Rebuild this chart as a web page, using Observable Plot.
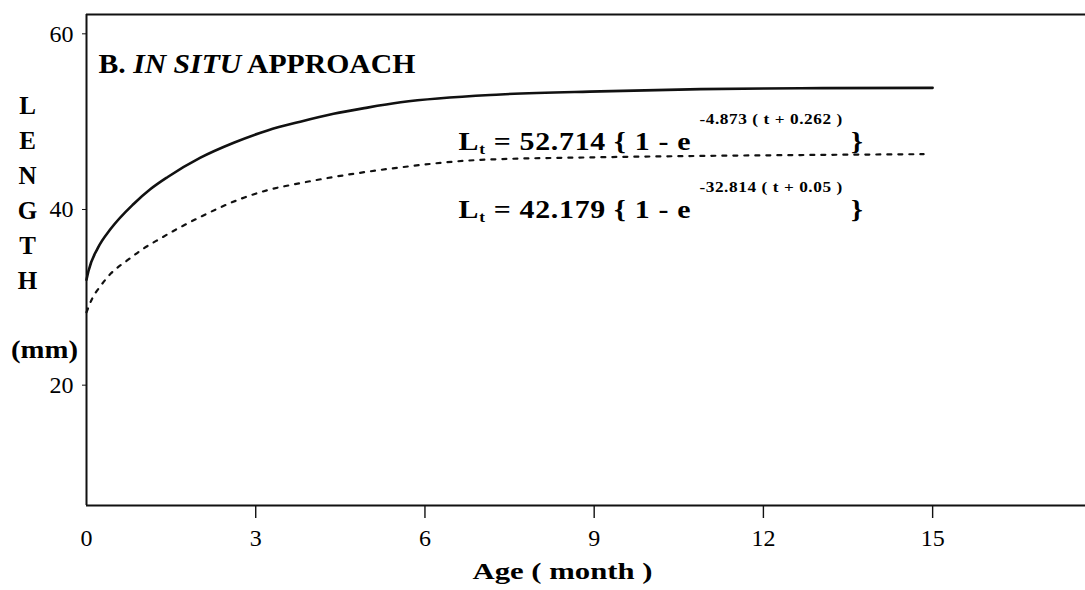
<!DOCTYPE html>
<html><head><meta charset="utf-8">
<script src="https://cdn.jsdelivr.net/npm/d3@7"></script>
<script src="https://cdn.jsdelivr.net/npm/@observablehq/plot@0.6"></script>
<style>
html,body{margin:0;padding:0;background:#fff;}
#chart svg{display:block;}
</style></head><body><div id="chart"></div>
<script>
// ---- data ----
const solidAge = [0, 0.035, 0.2, 0.43, 0.83, 1.13, 1.44, 2.02, 2.61, 3.21, 3.79, 4.38, 4.98, 5.57, 7.34, 9.11, 10.89, 12.66, 15];
const solidLength = [32.0, 33.0, 35.6, 37.8, 40.6, 42.3, 43.7, 45.9, 47.6, 49.0, 50.0, 50.9, 51.6, 52.2, 53.1, 53.45, 53.7, 53.8, 53.85];
const dottedAge = [0, 0.1, 0.25, 0.43, 0.72, 1.01, 1.31, 1.61, 1.97, 2.73, 3.21, 3.79, 4.38, 4.98, 5.57, 6.99, 9.11, 10.89, 12.66, 14.84];
const dottedLength = [28.3, 29.85, 31.3, 32.7, 34.2, 35.55, 36.7, 37.8, 39.0, 41.2, 42.2, 43.0, 43.7, 44.3, 44.8, 45.65, 45.95, 46.1, 46.2, 46.3];
const xTicks = [0, 3, 6, 9, 12, 15];
const yTicks = [20, 40, 60];
const eqLinf = ["52.714", "42.179"];
const eqK = ["-4.873", "-32.814"];
const eqT0 = ["0.262", "0.05"];
const titleParts = ["B. ", "IN SITU", " APPROACH"];
const yLabelLetters = ["L", "E", "N", "G", "T", "H"];
const yUnit = "(mm)";
const xLabel = "Age ( month )";

const xDomain = [0, 17.71];
const yDomain = [6.3, 62.2];

const solid = solidAge.map((a, i) => ({age: a, len: solidLength[i]}));
const dotted = dottedAge.map((a, i) => ({age: a, len: dottedLength[i]}));

const serif = "'Liberation Serif', 'Times New Roman', serif";
const ink = "#111";

const eqDy = [135, 203];

const plot = Plot.plot({
  width: 1085,
  height: 590,
  marginLeft: 86,
  marginRight: 0,
  marginTop: 14,
  marginBottom: 85,
  style: {fontFamily: serif, background: "#fff", color: "#000", overflow: "visible"},
  x: {domain: xDomain},
  y: {domain: yDomain},
  marks: [
    Plot.ruleX([xDomain[0]], {stroke: ink, strokeWidth: 2}),
    Plot.ruleY([yDomain[0], yDomain[1]], {stroke: ink, strokeWidth: 2}),
    Plot.axisX({ticks: xTicks.slice(1), tickSize: 13, tickFormat: () => "", label: null, stroke: ink, strokeWidth: 1.4}),
    Plot.axisX({ticks: xTicks, tickSize: 0, tickPadding: 23, fontSize: 24, label: null, fill: "#000"}),
    Plot.axisY({ticks: yTicks, tickSize: 4, tickPadding: 9, fontSize: 24, label: null, fill: "#000", stroke: ink}),
    Plot.line(solid, {x: "age", y: "len", curve: "monotone-x", stroke: ink, strokeWidth: 2.6}),
    Plot.line(dotted, {x: "age", y: "len", curve: "monotone-x", stroke: ink, strokeWidth: 2.2, strokeDasharray: "4,7"}),
    Plot.text([titleParts.join("")], {frameAnchor: "top-left", dx: 12, dy: 58, lineAnchor: "bottom", textAnchor: "start", fontSize: 27, fontWeight: "bold", fill: "#000"}),
    ...eqLinf.map((v, i) =>
      Plot.text([v], {frameAnchor: "top-left", dx: 372, dy: eqDy[i], lineAnchor: "bottom", textAnchor: "start", fontSize: 26, fontWeight: "bold", fill: "#000"})
    ),
    Plot.text([yLabelLetters.join("\n")], {frameAnchor: "top-left", dx: -59, dy: 75, lineAnchor: "top", lineHeight: 1.4, textAnchor: "middle", fontSize: 25, fontWeight: "bold", fill: "#000"}),
    Plot.text([yUnit], {frameAnchor: "top-left", dx: -42, dy: 343, lineAnchor: "bottom", textAnchor: "middle", fontSize: 25, fontWeight: "bold", fill: "#000"}),
    Plot.text([xLabel], {frameAnchor: "bottom-left", dx: 476, dy: 73, lineAnchor: "bottom", textAnchor: "middle", fontSize: 24, fontWeight: "bold", fill: "#000"})
  ]
});

document.getElementById("chart").appendChild(plot);

// ---- rich text (italic / sub / superscripts) and scan proportions ----
const svgNS = "http://www.w3.org/2000/svg";
const allText = [...plot.querySelectorAll("text")];
const byContent = s => allText.filter(t => t.textContent === s);

function fill(textEl, parts) {
  while (textEl.firstChild) textEl.removeChild(textEl.firstChild);
  textEl.style.whiteSpace = "pre";
  for (const p of parts) {
    const ts = document.createElementNS(svgNS, "tspan");
    ts.textContent = p.text;
    if (p.size) ts.setAttribute("font-size", p.size);
    if (p.dy) ts.setAttribute("dy", p.dy);
    if (p.italic) ts.setAttribute("font-style", "italic");
    if (p.ls != null) ts.setAttribute("letter-spacing", p.ls);
    textEl.appendChild(ts);
  }
}
function stretch(t, sx) {
  let tr = t.getAttribute("transform");
  if (!tr) {
    const x = t.getAttribute("x") || 0;
    t.setAttribute("x", 0);
    tr = `translate(${x},0)`;
  }
  t.setAttribute("transform", tr + ` scale(${sx},1)`);
}

byContent(titleParts.join("")).forEach(t => {
  fill(t, [
    {text: titleParts[0]},
    {text: titleParts[1], italic: true},
    {text: titleParts[2]}
  ]);
  stretch(t, 1.1);
});

eqLinf.forEach((v, i) => {
  byContent(v).forEach(t => {
    t.setAttribute("letter-spacing", "0.6");
    fill(t, [
      {text: "L"},
      {text: "t", size: 15, dy: 4},
      {text: " = " + eqLinf[i] + " { 1 - e ", size: 26, dy: -4},
      {text: eqK[i] + " ( t + " + eqT0[i] + " )", size: 15, dy: -26, ls: 0.5},
      {text: " }", size: 26, dy: 26}
    ]);
    stretch(t, 1.15);
  });
});
byContent(yUnit).forEach(t => stretch(t, 1.15));
byContent(xLabel).forEach(t => stretch(t, 1.28));
</script>
</body></html>
